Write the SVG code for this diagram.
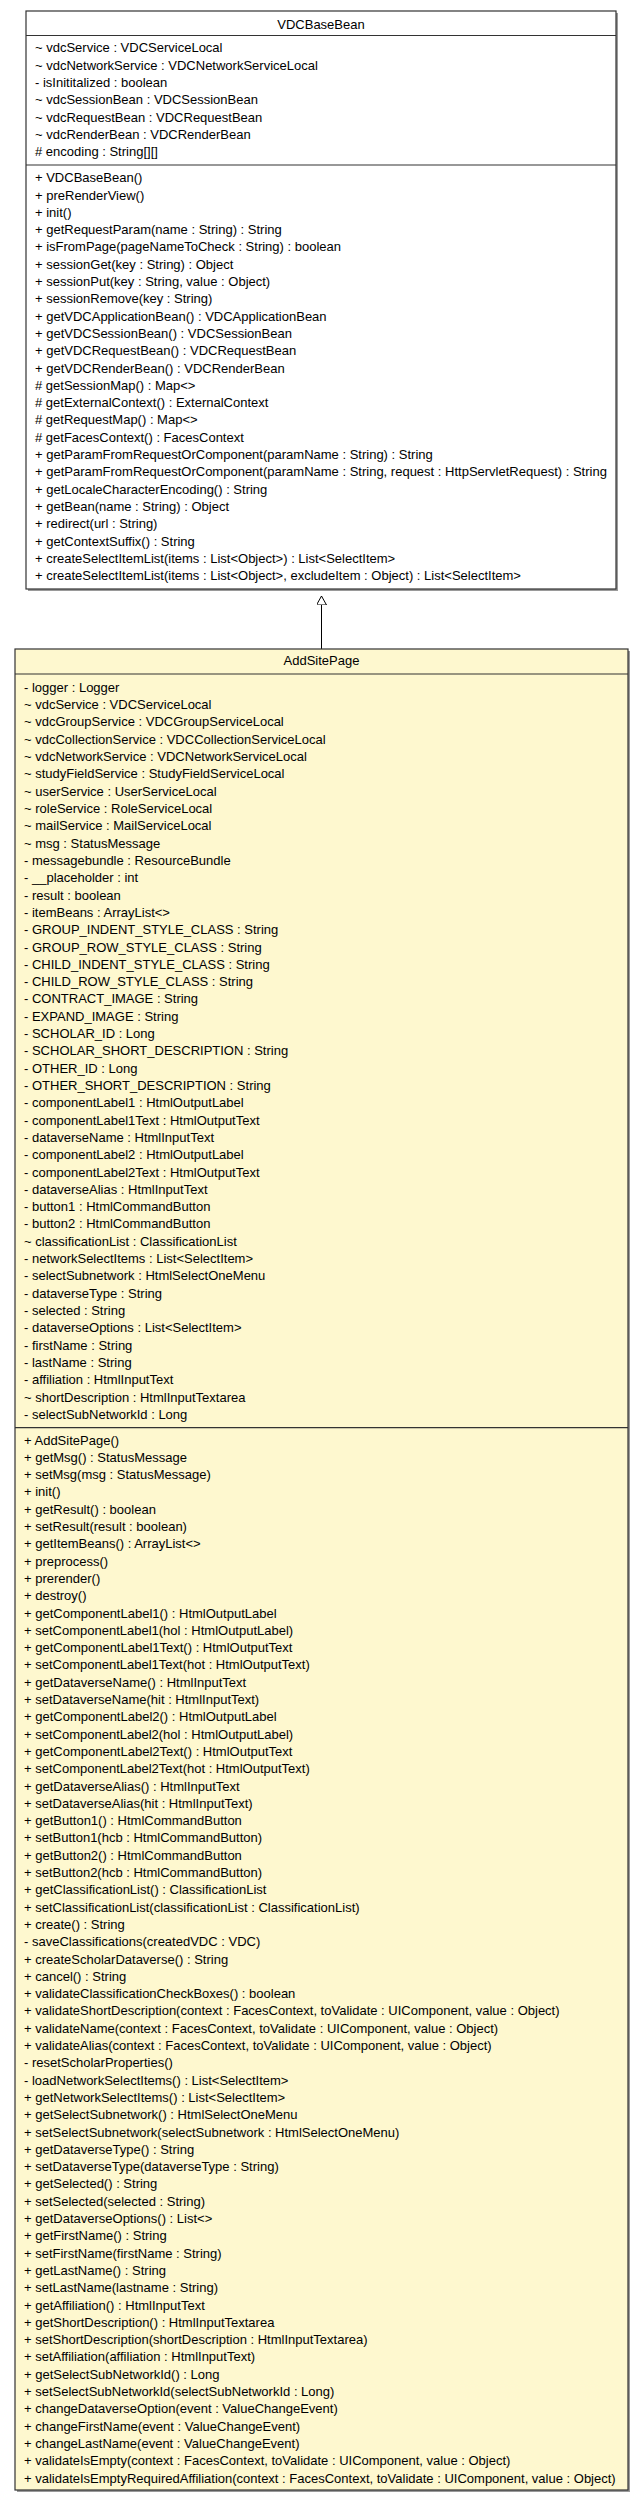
<svg xmlns="http://www.w3.org/2000/svg" width="643" height="2504" viewBox="0 0 643 2504">
<style>
.box{stroke:#333;stroke-width:1.2}
.shadow{fill:#9a9a9a}
.sep{stroke:#333;stroke-width:1.2}
text{font-family:"Liberation Sans",Arial,sans-serif;font-size:13px;fill:#000}
.title{text-anchor:middle}
.edge{stroke:#000;stroke-width:1;fill:none}
</style>
<defs>
<marker id="gen" markerUnits="userSpaceOnUse" markerWidth="11" markerHeight="12" refX="9" refY="5" orient="auto">
<path d="M0,0 L9,5 L0,10 z" fill="#fff" stroke="#000" stroke-width="1"/>
</marker>
</defs>
<g id="connectors">
<path class="edge" d="M321.5,649 L321.5,596" marker-end="url(#gen)"/>
</g>
<g id="VDCBaseBean">
<rect class="shadow" x="28" y="13" width="590" height="578"/>
<rect class="box" x="26" y="11" width="590" height="578" fill="#fff"/>
<line class="sep" x1="26" y1="35.5" x2="616" y2="35.5"/>
<line class="sep" x1="26" y1="165" x2="616" y2="165"/>
<text class="title" x="321" y="28.5">VDCBaseBean</text>
<text x="35" y="52.2">~ vdcService : VDCServiceLocal</text>
<text x="35" y="69.6">~ vdcNetworkService : VDCNetworkServiceLocal</text>
<text x="35" y="86.9">- isInititalized : boolean</text>
<text x="35" y="104.3">~ vdcSessionBean : VDCSessionBean</text>
<text x="35" y="121.6">~ vdcRequestBean : VDCRequestBean</text>
<text x="35" y="139.0">~ vdcRenderBean : VDCRenderBean</text>
<text x="35" y="156.3"># encoding : String[][]</text>
<text x="35" y="182.2">+ VDCBaseBean()</text>
<text x="35" y="199.5">+ preRenderView()</text>
<text x="35" y="216.8">+ init()</text>
<text x="35" y="234.1">+ getRequestParam(name : String) : String</text>
<text x="35" y="251.4">+ isFromPage(pageNameToCheck : String) : boolean</text>
<text x="35" y="268.7">+ sessionGet(key : String) : Object</text>
<text x="35" y="286.0">+ sessionPut(key : String, value : Object)</text>
<text x="35" y="303.3">+ sessionRemove(key : String)</text>
<text x="35" y="320.6">+ getVDCApplicationBean() : VDCApplicationBean</text>
<text x="35" y="337.9">+ getVDCSessionBean() : VDCSessionBean</text>
<text x="35" y="355.2">+ getVDCRequestBean() : VDCRequestBean</text>
<text x="35" y="372.5">+ getVDCRenderBean() : VDCRenderBean</text>
<text x="35" y="389.8"># getSessionMap() : Map&lt;&gt;</text>
<text x="35" y="407.1"># getExternalContext() : ExternalContext</text>
<text x="35" y="424.4"># getRequestMap() : Map&lt;&gt;</text>
<text x="35" y="441.7"># getFacesContext() : FacesContext</text>
<text x="35" y="459.0">+ getParamFromRequestOrComponent(paramName : String) : String</text>
<text x="35" y="476.3">+ getParamFromRequestOrComponent(paramName : String, request : HttpServletRequest) : String</text>
<text x="35" y="493.6">+ getLocaleCharacterEncoding() : String</text>
<text x="35" y="510.9">+ getBean(name : String) : Object</text>
<text x="35" y="528.2">+ redirect(url : String)</text>
<text x="35" y="545.5">+ getContextSuffix() : String</text>
<text x="35" y="562.8">+ createSelectItemList(items : List&lt;Object&gt;) : List&lt;SelectItem&gt;</text>
<text x="35" y="580.1">+ createSelectItemList(items : List&lt;Object&gt;, excludeItem : Object) : List&lt;SelectItem&gt;</text>
</g>
<g id="AddSitePage">
<rect class="shadow" x="17" y="651" width="613" height="1841"/>
<rect class="box" x="15" y="649" width="613" height="1841" fill="#fef8cf"/>
<line class="sep" x1="15" y1="674" x2="628" y2="674"/>
<line class="sep" x1="15" y1="1427.7" x2="628" y2="1427.7"/>
<text class="title" x="321.5" y="665.2">AddSitePage</text>
<text x="24" y="691.8">- logger : Logger</text>
<text x="24" y="709.1">~ vdcService : VDCServiceLocal</text>
<text x="24" y="726.4">~ vdcGroupService : VDCGroupServiceLocal</text>
<text x="24" y="743.7">~ vdcCollectionService : VDCCollectionServiceLocal</text>
<text x="24" y="761.0">~ vdcNetworkService : VDCNetworkServiceLocal</text>
<text x="24" y="778.4">~ studyFieldService : StudyFieldServiceLocal</text>
<text x="24" y="795.7">~ userService : UserServiceLocal</text>
<text x="24" y="813.0">~ roleService : RoleServiceLocal</text>
<text x="24" y="830.3">~ mailService : MailServiceLocal</text>
<text x="24" y="847.6">~ msg : StatusMessage</text>
<text x="24" y="864.9">- messagebundle : ResourceBundle</text>
<text x="24" y="882.2">- __placeholder : int</text>
<text x="24" y="899.5">- result : boolean</text>
<text x="24" y="916.8">- itemBeans : ArrayList&lt;&gt;</text>
<text x="24" y="934.1">- GROUP_INDENT_STYLE_CLASS : String</text>
<text x="24" y="951.5">- GROUP_ROW_STYLE_CLASS : String</text>
<text x="24" y="968.8">- CHILD_INDENT_STYLE_CLASS : String</text>
<text x="24" y="986.1">- CHILD_ROW_STYLE_CLASS : String</text>
<text x="24" y="1003.4">- CONTRACT_IMAGE : String</text>
<text x="24" y="1020.7">- EXPAND_IMAGE : String</text>
<text x="24" y="1038.0">- SCHOLAR_ID : Long</text>
<text x="24" y="1055.3">- SCHOLAR_SHORT_DESCRIPTION : String</text>
<text x="24" y="1072.6">- OTHER_ID : Long</text>
<text x="24" y="1089.9">- OTHER_SHORT_DESCRIPTION : String</text>
<text x="24" y="1107.2">- componentLabel1 : HtmlOutputLabel</text>
<text x="24" y="1124.6">- componentLabel1Text : HtmlOutputText</text>
<text x="24" y="1141.9">- dataverseName : HtmlInputText</text>
<text x="24" y="1159.2">- componentLabel2 : HtmlOutputLabel</text>
<text x="24" y="1176.5">- componentLabel2Text : HtmlOutputText</text>
<text x="24" y="1193.8">- dataverseAlias : HtmlInputText</text>
<text x="24" y="1211.1">- button1 : HtmlCommandButton</text>
<text x="24" y="1228.4">- button2 : HtmlCommandButton</text>
<text x="24" y="1245.7">~ classificationList : ClassificationList</text>
<text x="24" y="1263.0">- networkSelectItems : List&lt;SelectItem&gt;</text>
<text x="24" y="1280.3">- selectSubnetwork : HtmlSelectOneMenu</text>
<text x="24" y="1297.7">- dataverseType : String</text>
<text x="24" y="1315.0">- selected : String</text>
<text x="24" y="1332.3">- dataverseOptions : List&lt;SelectItem&gt;</text>
<text x="24" y="1349.6">- firstName : String</text>
<text x="24" y="1366.9">- lastName : String</text>
<text x="24" y="1384.2">- affiliation : HtmlInputText</text>
<text x="24" y="1401.5">~ shortDescription : HtmlInputTextarea</text>
<text x="24" y="1418.8">- selectSubNetworkId : Long</text>
<text x="24" y="1444.5">+ AddSitePage()</text>
<text x="24" y="1461.8">+ getMsg() : StatusMessage</text>
<text x="24" y="1479.1">+ setMsg(msg : StatusMessage)</text>
<text x="24" y="1496.4">+ init()</text>
<text x="24" y="1513.7">+ getResult() : boolean</text>
<text x="24" y="1531.0">+ setResult(result : boolean)</text>
<text x="24" y="1548.3">+ getItemBeans() : ArrayList&lt;&gt;</text>
<text x="24" y="1565.6">+ preprocess()</text>
<text x="24" y="1582.9">+ prerender()</text>
<text x="24" y="1600.2">+ destroy()</text>
<text x="24" y="1617.5">+ getComponentLabel1() : HtmlOutputLabel</text>
<text x="24" y="1634.8">+ setComponentLabel1(hol : HtmlOutputLabel)</text>
<text x="24" y="1652.1">+ getComponentLabel1Text() : HtmlOutputText</text>
<text x="24" y="1669.4">+ setComponentLabel1Text(hot : HtmlOutputText)</text>
<text x="24" y="1686.7">+ getDataverseName() : HtmlInputText</text>
<text x="24" y="1704.0">+ setDataverseName(hit : HtmlInputText)</text>
<text x="24" y="1721.3">+ getComponentLabel2() : HtmlOutputLabel</text>
<text x="24" y="1738.6">+ setComponentLabel2(hol : HtmlOutputLabel)</text>
<text x="24" y="1755.9">+ getComponentLabel2Text() : HtmlOutputText</text>
<text x="24" y="1773.2">+ setComponentLabel2Text(hot : HtmlOutputText)</text>
<text x="24" y="1790.5">+ getDataverseAlias() : HtmlInputText</text>
<text x="24" y="1807.8">+ setDataverseAlias(hit : HtmlInputText)</text>
<text x="24" y="1825.1">+ getButton1() : HtmlCommandButton</text>
<text x="24" y="1842.4">+ setButton1(hcb : HtmlCommandButton)</text>
<text x="24" y="1859.7">+ getButton2() : HtmlCommandButton</text>
<text x="24" y="1877.0">+ setButton2(hcb : HtmlCommandButton)</text>
<text x="24" y="1894.3">+ getClassificationList() : ClassificationList</text>
<text x="24" y="1911.6">+ setClassificationList(classificationList : ClassificationList)</text>
<text x="24" y="1928.9">+ create() : String</text>
<text x="24" y="1946.2">- saveClassifications(createdVDC : VDC)</text>
<text x="24" y="1963.5">+ createScholarDataverse() : String</text>
<text x="24" y="1980.8">+ cancel() : String</text>
<text x="24" y="1998.1">+ validateClassificationCheckBoxes() : boolean</text>
<text x="24" y="2015.4">+ validateShortDescription(context : FacesContext, toValidate : UIComponent, value : Object)</text>
<text x="24" y="2032.7">+ validateName(context : FacesContext, toValidate : UIComponent, value : Object)</text>
<text x="24" y="2050.0">+ validateAlias(context : FacesContext, toValidate : UIComponent, value : Object)</text>
<text x="24" y="2067.3">- resetScholarProperties()</text>
<text x="24" y="2084.6">- loadNetworkSelectItems() : List&lt;SelectItem&gt;</text>
<text x="24" y="2101.9">+ getNetworkSelectItems() : List&lt;SelectItem&gt;</text>
<text x="24" y="2119.2">+ getSelectSubnetwork() : HtmlSelectOneMenu</text>
<text x="24" y="2136.5">+ setSelectSubnetwork(selectSubnetwork : HtmlSelectOneMenu)</text>
<text x="24" y="2153.8">+ getDataverseType() : String</text>
<text x="24" y="2171.1">+ setDataverseType(dataverseType : String)</text>
<text x="24" y="2188.4">+ getSelected() : String</text>
<text x="24" y="2205.7">+ setSelected(selected : String)</text>
<text x="24" y="2223.0">+ getDataverseOptions() : List&lt;&gt;</text>
<text x="24" y="2240.3">+ getFirstName() : String</text>
<text x="24" y="2257.6">+ setFirstName(firstName : String)</text>
<text x="24" y="2274.9">+ getLastName() : String</text>
<text x="24" y="2292.2">+ setLastName(lastname : String)</text>
<text x="24" y="2309.5">+ getAffiliation() : HtmlInputText</text>
<text x="24" y="2326.8">+ getShortDescription() : HtmlInputTextarea</text>
<text x="24" y="2344.1">+ setShortDescription(shortDescription : HtmlInputTextarea)</text>
<text x="24" y="2361.4">+ setAffiliation(affiliation : HtmlInputText)</text>
<text x="24" y="2378.7">+ getSelectSubNetworkId() : Long</text>
<text x="24" y="2396.0">+ setSelectSubNetworkId(selectSubNetworkId : Long)</text>
<text x="24" y="2413.3">+ changeDataverseOption(event : ValueChangeEvent)</text>
<text x="24" y="2430.6">+ changeFirstName(event : ValueChangeEvent)</text>
<text x="24" y="2447.9">+ changeLastName(event : ValueChangeEvent)</text>
<text x="24" y="2465.2">+ validateIsEmpty(context : FacesContext, toValidate : UIComponent, value : Object)</text>
<text x="24" y="2482.5">+ validateIsEmptyRequiredAffiliation(context : FacesContext, toValidate : UIComponent, value : Object)</text>
</g>
</svg>
